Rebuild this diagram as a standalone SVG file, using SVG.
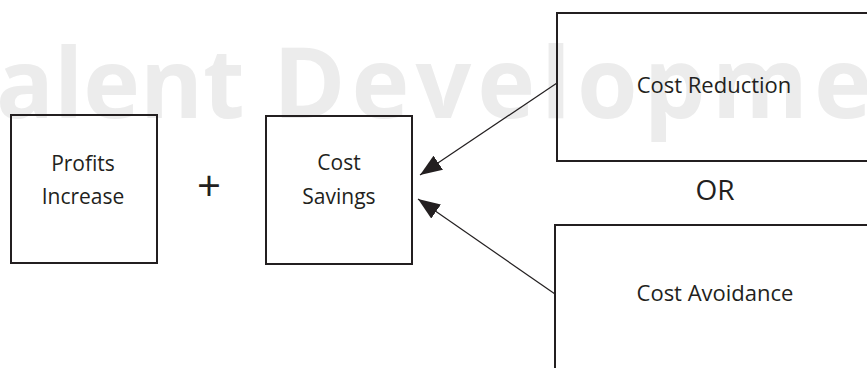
<svg xmlns="http://www.w3.org/2000/svg" width="867" height="368" viewBox="0 0 867 368">
  <style>
    .box { fill: none; stroke: #231f20; stroke-width: 2; }
    .lbl { font-family: "Open Sans", "Liberation Sans", sans-serif; font-size: 21px; fill: #231f20; text-anchor: middle; }
    .wm { font-family: "Open Sans", "Liberation Sans", sans-serif; font-weight: bold; font-size: 96px; fill: #ececec; }
    .conn { stroke: #231f20; stroke-width: 1.2; fill: none; }
  </style>
  <defs>
    <marker id="arrow" viewBox="0 0 22 17" refX="22" refY="8.5" markerWidth="22" markerHeight="17" markerUnits="userSpaceOnUse" orient="auto">
      <path d="M0,0 L22,8.5 L0,17 Z" fill="#231f20"/>
    </marker>
  </defs>
  <rect width="867" height="368" fill="#ffffff"/>

  <!-- background watermark -->
  <text class="wm" y="118"><tspan x="-4">alent</tspan><tspan x="273" style="font-size:98px" letter-spacing="6">Developme</tspan></text>

  <g id="profits-increase">
    <rect class="box" x="11" y="115" width="146" height="148"/>
    <text class="lbl" x="83" y="171">Profits</text>
    <text class="lbl" x="83" y="204">Increase</text>
  </g>

  <g id="plus">
    <text x="209" y="201" font-family="Open Sans, Liberation Sans, sans-serif" font-size="42" fill="#231f20" text-anchor="middle">+</text>
  </g>

  <g id="cost-savings">
    <rect class="box" x="266" y="116" width="146" height="148"/>
    <text class="lbl" x="339" y="170">Cost</text>
    <text class="lbl" x="339" y="204">Savings</text>
  </g>

  <g id="cost-reduction">
    <rect class="box" x="557" y="13" width="320" height="148"/>
    <text class="lbl" x="714" y="93" style="font-size:22px">Cost Reduction</text>
  </g>

  <g id="or">
    <text class="lbl" x="715" y="200" style="font-size:28px">OR</text>
  </g>

  <g id="cost-avoidance">
    <rect class="box" x="555" y="225" width="320" height="160"/>
    <text class="lbl" x="715" y="301" style="font-size:22px">Cost Avoidance</text>
  </g>

  <g id="connectors">
    <line class="conn" x1="557" y1="83" x2="420" y2="175" marker-end="url(#arrow)"/>
    <line class="conn" x1="555" y1="294" x2="418" y2="199" marker-end="url(#arrow)"/>
  </g>
</svg>
